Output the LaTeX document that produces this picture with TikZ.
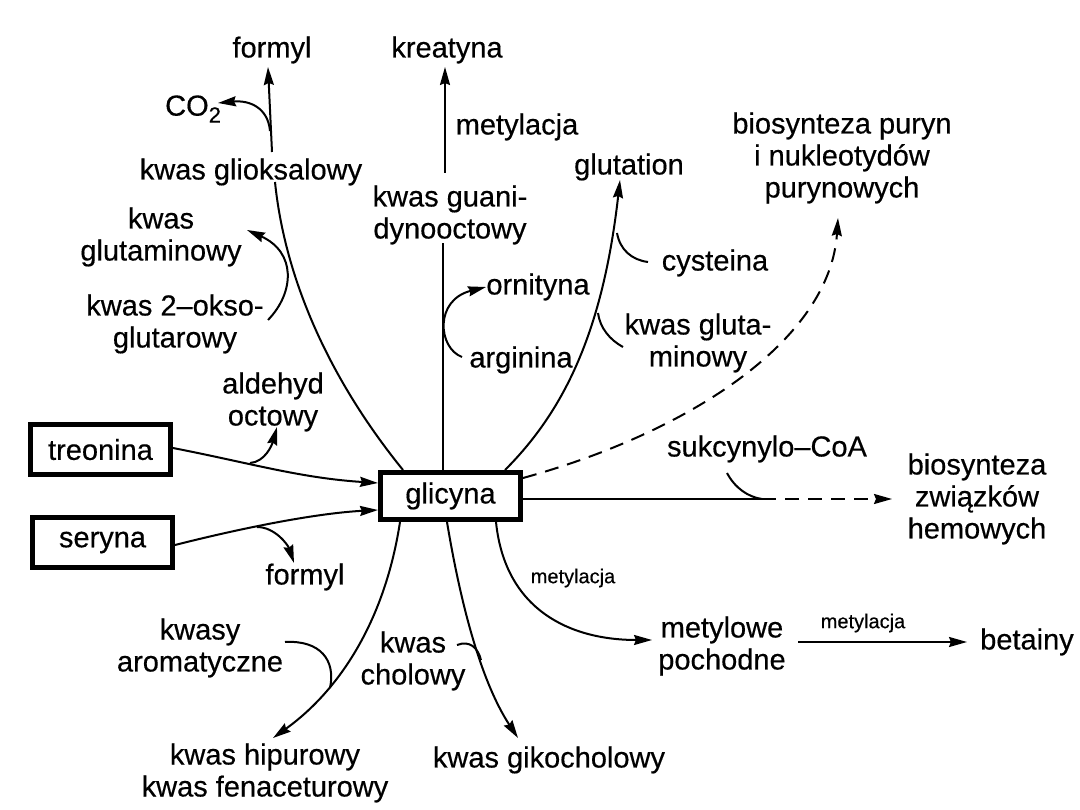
\documentclass[tikz,border=0pt]{standalone}
\usepackage{fontspec}
\setmainfont{Liberation Sans}[FakeBold=0.4]
\usetikzlibrary{arrows.meta}
\begin{document}
\begin{tikzpicture}[x=1pt,y=-1pt,
  lab/.style={inner sep=0pt,align=center,font=\fontsize{29}{32}\selectfont},
  smalllab/.style={inner sep=0pt,align=center,font=\fontsize{20}{24}\selectfont},
  boxnode/.style={draw,line width=5pt,minimum width=140pt,minimum height=48pt,inner sep=0pt,font=\fontsize{29}{32}\selectfont},
  conn/.style={line width=2pt},
  arr/.style={conn,-{Stealth[length=18pt,width=10pt,inset=2pt]}},
  dashedconn/.style={line width=2pt,dash pattern=on 14pt off 9pt}
]
\useasboundingbox (0,0) rectangle (1080,810);
\fill[white] (0,0) rectangle (1080,810);

% boxes
\node[boxnode,minimum height=47pt] (glicyna) at (450.5,496) {glicyna};
\node[boxnode,minimum height=50pt] (treonina) at (100.5,449.5) {treonina};
\node[boxnode,minimum height=50pt] (seryna) at (102.5,542.5) {seryna};

% labels
\node[lab] (formylA) at (272,50) {formyl};
\node[lab] (kreatyna) at (447,50) {kreatyna};
\node[lab,anchor=west] (co2) at (165,109) {CO\raisebox{-7pt}{\fontsize{22}{22}\selectfont 2}};
\node[lab] (gliok) at (251,172) {kwas glioksalowy};
\node[lab] (kgluA) at (161,237) {kwas\\glutaminowy};
\node[lab] (okso) at (175,324) {kwas 2–okso-\\glutarowy};
\node[lab] (ald) at (273,402) {aldehyd\\octowy};
\node[lab] (formylB) at (305,577) {formyl};
\node[lab] (arom) at (200,648) {kwasy\\aromatyczne};
\node[lab] (chol) at (413,661) {kwas\\cholowy};
\node[lab] (hip) at (265,773) {kwas hipurowy\\kwas fenaceturowy};
\node[lab] (giko) at (549,760) {kwas gikocholowy};
\node[smalllab] (metA) at (573,578) {metylacja};
\node[lab] (metpoch) at (722,646) {metylowe\\pochodne};
\node[smalllab] (metB) at (863,623) {metylacja};
\node[lab] (betainy) at (1027,642) {betainy};
\node[lab] (hem) at (977,499) {biosynteza\\związków\\hemowych};
\node[lab] (suk) at (767,449) {sukcynylo–CoA};
\node[lab] (pur) at (842,158) {biosynteza puryn\\i nukleotydów\\purynowych};
\node[lab] (glut) at (629,167) {glutation};
\node[lab] (cys) at (715,263) {cysteina};
\node[lab] (kgluB) at (698,343) {kwas gluta-\\minowy};
\node[lab] (orn) at (538,287) {ornityna};
\node[lab] (arg) at (521,360) {arginina};
\node[lab] (kguan) at (450,215) {kwas guani-\\dynooctowy};
\node[lab] (metC) at (517,127) {metylacja};

% attachment coordinates
\coordinate (gA) at (403,470);
\coordinate (gB) at (443,470);
\coordinate (gC) at (505,470);
\coordinate (gD) at (523,478);
\coordinate (gE) at (523,499);
\coordinate (gF) at (496,522);
\coordinate (gG) at (447,522);
\coordinate (gH) at (400,522);
\coordinate (gI) at (378,483);
\coordinate (gJ) at (378,510);

\coordinate (fA1) at (275,182);
\coordinate (fA2) at (272,152);
\coordinate (fAt) at (268,67);
\coordinate (co2j) at (270,131);
\coordinate (co2t) at (218,103);
\coordinate (gluj) at (268,320);
\coordinate (glut2) at (247,230);
\coordinate (kgb) at (443,243);
\coordinate (kgt) at (445,173);
\coordinate (kret) at (445,67);
\coordinate (argj) at (462,357);
\coordinate (ornt) at (486,287);
\coordinate (glutt) at (620,180);
\coordinate (cysj) at (617,233);
\coordinate (cyse) at (648,262);
\coordinate (kgj) at (598,313);
\coordinate (kge) at (623,347);
\coordinate (purt) at (838,218);
\coordinate (hemj) at (762,499);
\coordinate (hemt) at (892,499);
\coordinate (suke) at (727,473);
\coordinate (metpt) at (652,640);
\coordinate (betA) at (798,642);
\coordinate (betB) at (967,642);
\coordinate (gikot) at (518,738);
\coordinate (cholA) at (457,645);
\coordinate (cholB) at (481,660);
\coordinate (hipt) at (273,738);
\coordinate (aromA) at (285,642);
\coordinate (aromB) at (330,688);
\coordinate (treo) at (173,448);
\coordinate (aldj) at (250,463);
\coordinate (aldt) at (277,427);
\coordinate (sery) at (175,545);
\coordinate (forj) at (257,527);
\coordinate (fort) at (294,563);

% connectors
\draw[conn] (gA) .. controls (330,380) and (285,280) .. (fA1);
\draw[arr] (fA2) -- (fAt);
\draw[arr] (co2j) .. controls (268,108) and (250,100) .. (co2t);
\draw[arr] (gluj) .. controls (295,292) and (296,252) .. (glut2);
\draw[conn] (gB) -- (kgb);
\draw[arr] (kgt) -- (kret);
\draw[arr] (argj) .. controls (438,348) and (434,300) .. (ornt);
\draw[arr] (gC) .. controls (565,410) and (603,330) .. (glutt);
\draw[conn] (cysj) .. controls (620,250) and (632,260) .. (cyse);
\draw[conn] (kgj) .. controls (600,328) and (610,340) .. (kge);
\draw[dashedconn,-{Stealth[length=18pt,width=10pt,inset=2pt]}] (gD) .. controls (690,432) and (830,340) .. (purt);
\draw[conn] (gE) -- (hemj);
\draw[dashedconn,-{Stealth[length=18pt,width=10pt,inset=2pt]}] (hemj) -- (hemt);
\draw[conn] (suke) .. controls (735,488) and (748,497) .. (hemj);
\draw[arr] (gF) .. controls (505,610) and (570,640) .. (metpt);
\draw[arr] (betA) -- (betB);
\draw[arr] (gG) .. controls (460,600) and (480,680) .. (gikot);
\draw[conn] (cholA) .. controls (470,640) and (478,648) .. (cholB);
\draw[arr] (gH) .. controls (385,620) and (340,690) .. (hipt);
\draw[conn] (aromA) .. controls (320,640) and (336,660) .. (aromB);
\draw[arr] (treo) .. controls (250,463) and (300,478) .. (gI);
\draw[arr] (aldj) .. controls (265,462) and (272,445) .. (aldt);
\draw[arr] (sery) .. controls (250,526) and (320,513) .. (gJ);
\draw[arr] (forj) .. controls (275,527) and (288,545) .. (fort);
\end{tikzpicture}
\end{document}
